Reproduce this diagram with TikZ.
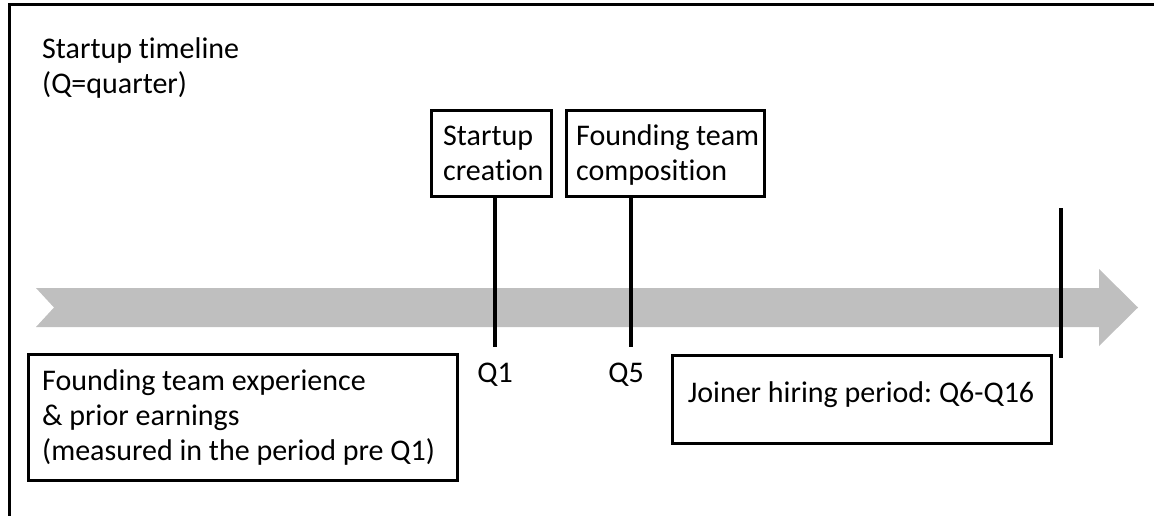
\documentclass[tikz,border=0pt]{standalone}
\usepackage{fontspec}
\setmainfont{Carlito}[Ligatures={NoCommon}]
\frenchspacing
\definecolor{arrowgray}{HTML}{BFBFBF}
\tikzset{
  boxshape/.style={draw=black, line width=3pt, fill=none, inner sep=0pt},
  txt/.style={inner sep=0pt, font=\fontsize{30}{35}\selectfont, align=left},
  tickline/.style={line width=4.5pt},
  frameline/.style={line width=3pt},
}
\begin{document}
\begin{tikzpicture}[x=1pt,y=-1pt]
\useasboundingbox (0,0) rectangle (1154,516);
% frame
\coordinate (fbl) at (9,516);
\coordinate (ftl) at (9,5);
\coordinate (ftr) at (1154,5);
\draw[frameline] (fbl) -- (ftl) -- (ftr);
% title (base anchor = baseline of last line)
\node[txt, anchor=base west] (title) at (42,94) {Startup timeline\\(Q=quarter)};
% timeline arrow
\fill[arrowgray] (36,288) -- (1099,288) -- (1099,269) -- (1138,307.5) -- (1099,346) -- (1099,327) -- (36,327) -- (54,307.5) -- cycle;
% top boxes
\node[boxshape, minimum width=120, minimum height=85] (sc) at (491,153.5) {};
\node[txt, anchor=base west] (sctext) at (443,180) {Startup\\creation};
\node[boxshape, minimum width=198, minimum height=85] (ftc) at (665,153.5) {};
\node[txt, anchor=base west] (ftctext) at (576,180) {Founding team\\composition};
% tick lines
\coordinate (q1end) at (495,347);
\coordinate (q5end) at (631,347);
\draw[tickline] (sc.south -| q1end) -- (q1end);
\draw[tickline] (ftc.south -| q5end) -- (q5end);
\coordinate (endtop) at (1061,208);
\coordinate (endbot) at (1061,358);
\draw[line width=4pt] (endtop) -- (endbot);
% quarter labels
\node[txt, anchor=base] (q1) at (495,382) {Q1};
\node[txt, anchor=base] (q5) at (626,382) {Q5};
% bottom boxes
\node[boxshape, minimum width=429, minimum height=126] (fte) at (242.5,417) {};
\node[txt, anchor=base west] (ftetext) at (42,460) {Founding team experience\\\& prior earnings\\(measured in the period pre Q1)};
\node[boxshape, minimum width=379, minimum height=88] (jh) at (861.5,399) {};
\node[txt, anchor=base] (jhtext) at (861,402) {Joiner hiring period: Q6-Q16};
\end{tikzpicture}
\end{document}
